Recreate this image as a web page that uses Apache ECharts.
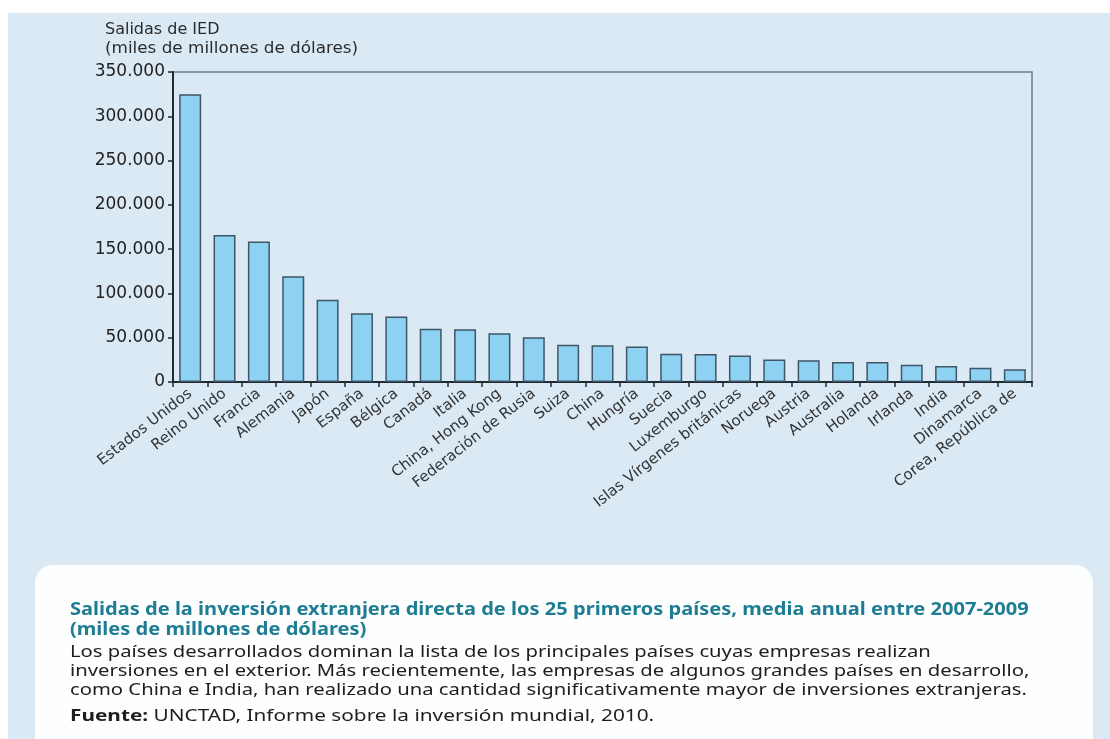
<!DOCTYPE html>
<html>
<head>
<meta charset="utf-8">
<title>Salidas de IED</title>
<script src="https://cdn.jsdelivr.net/npm/echarts@6/dist/echarts.min.js"></script>
<style>
    html, body { margin: 0; padding: 0; background: #ffffff; }
    #chart { width: 1110px; height: 739px; }
</style>
</head>
<body>
<div id="chart"></div>
<script>
// Outflows by country
const countries = [
    'Estados Unidos', 'Reino Unido', 'Francia', 'Alemania', 'Japón', 'España',
    'Bélgica', 'Canadá', 'Italia', 'China, Hong Kong', 'Federación de Rusia',
    'Suiza', 'China', 'Hungría', 'Suecia', 'Luxemburgo', 'Islas Vírgenes británicas',
    'Noruega', 'Austria', 'Australia', 'Holanda', 'Irlanda', 'India', 'Dinamarca',
    'Corea, República de'
];
const outflows = [
    325000, 166000, 158500, 119500, 93000, 77500,
    74000, 60000, 59500, 55000, 50500,
    42000, 41500, 40000, 32000, 31500, 30000,
    25500, 24500, 22500, 22500, 19500, 18000, 16000,
    14500
];
const yTicks = [0, 50000, 100000, 150000, 200000, 250000, 300000, 350000];

const captionTitle = [
    'Salidas de la inversión extranjera directa de los 25 primeros países, media anual entre 2007-2009',
    '(miles de millones de dólares)'
];
const captionBody = [
    'Los países desarrollados dominan la lista de los principales países cuyas empresas realizan',
    'inversiones en el exterior. Más recientemente, las empresas de algunos grandes países en desarrollo,',
    'como China e India, han realizado una cantidad significativamente mayor de inversiones extranjeras.'
];

function formatThousands(v) {
    return String(v).replace(/\B(?=(\d{3})+(?!\d))/g, '.');
}

const chart = echarts.init(document.getElementById('chart'));

// background panels + caption box, all as graphic elements
const graphics = [
    { type: 'rect', z: -10, shape: { x: 0, y: 0, width: 1110, height: 739 }, style: { fill: '#ffffff' } },
    { type: 'rect', z: -9, shape: { x: 8, y: 13, width: 1102, height: 726 }, style: { fill: '#dbe9f4' } },
    { type: 'rect', z: -8, shape: { x: 35, y: 565, width: 1058, height: 200, r: 18 }, style: { fill: '#fdfefe' } },
    {
        type: 'text', x: 105, y: 22,
        style: { text: 'Salidas de IED', font: '16px "DejaVu Sans"', fill: '#2b2b2b' }
    },
    {
        type: 'text', x: 105, y: 41, scaleX: 1.05,
        style: { text: '(miles de millones de dólares)', font: '16px "DejaVu Sans"', fill: '#2b2b2b' }
    }
];

// caption text is horizontally stretched in the original, hence scaleX
captionTitle.forEach((line, i) => {
    graphics.push({
        type: 'text', x: 70, y: 602 + i * 20, scaleX: 1.18,
        style: { text: line, font: 'bold 17px "Noto Sans"', fill: '#1f7d93' }
    });
});
captionBody.forEach((line, i) => {
    graphics.push({
        type: 'text', x: 70, y: 644 + i * 19, scaleX: 1.19,
        style: { text: line, font: '17px "Noto Sans"', fill: '#1e1e1e' }
    });
});
graphics.push({
    type: 'text', x: 70, y: 708, scaleX: 1.3,
    style: {
        text: '{b|Fuente:} UNCTAD, Informe sobre la inversión mundial, 2010.',
        font: '16px "Noto Sans"', fill: '#1e1e1e',
        rich: { b: { font: 'bold 16px "Noto Sans"', fill: '#1e1e1e' } }
    }
});

const option = {
    backgroundColor: '#dbe9f4',
    animation: false,
    graphic: graphics,
    grid: {
        left: 173,
        top: 72,
        right: 78,
        bottom: 357,
        show: true,
        borderColor: '#6e7f8c',
        borderWidth: 1.5,
        backgroundColor: 'transparent'
    },
    xAxis: {
        type: 'category',
        data: countries,
        axisLine: { lineStyle: { color: '#1f2a33', width: 2 } },
        axisTick: { show: true, length: 5, lineStyle: { color: '#1f2a33', width: 1.5 } },
        axisLabel: {
            interval: 0,
            rotate: 38,
            margin: 10,
            fontFamily: 'DejaVu Sans',
            fontSize: 15,
            color: '#333333'
        }
    },
    yAxis: {
        type: 'value',
        min: 0,
        max: yTicks[yTicks.length - 1],
        interval: yTicks[1] - yTicks[0],
        splitLine: { show: false },
        axisLine: { show: true, lineStyle: { color: '#1f2a33', width: 2 } },
        axisTick: { show: true, length: 5, lineStyle: { color: '#1f2a33', width: 1.5 } },
        axisLabel: {
            margin: 8,
            fontFamily: 'DejaVu Sans',
            fontSize: 17,
            color: '#222222',
            formatter: formatThousands
        }
    },
    series: [{
        type: 'bar',
        data: outflows,
        barWidth: '64%',
        itemStyle: {
            color: '#8dd2f3',
            borderColor: '#3e5666',
            borderWidth: 1.5
        }
    }]
};

chart.setOption(option);
</script>
</body>
</html>
